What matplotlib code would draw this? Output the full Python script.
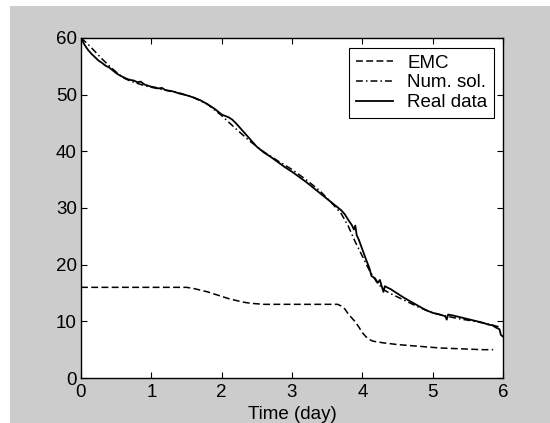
import matplotlib
matplotlib.use("Agg")
import matplotlib.pyplot as plt
from matplotlib.patches import Rectangle

plt.rcParams['font.family'] = ['Liberation Sans', 'DejaVu Sans']

# EMC curve
emc_t = [0.0, 1.5, 1.6, 1.7, 1.8, 1.9, 2.0, 2.1, 2.2, 2.3, 2.4, 2.5, 2.6, 3.65,
         3.7, 3.75, 3.8, 3.85, 3.9, 3.95, 4.0, 4.05, 4.1, 4.15, 4.3, 4.5, 4.7,
         4.9, 5.1, 5.3, 5.5, 5.7, 5.86]
emc_v = [16.0, 16.0, 15.8, 15.5, 15.2, 14.8, 14.4, 14.0, 13.7, 13.4, 13.2, 13.1, 13.0, 13.0,
         12.7, 12.2, 11.3, 10.6, 9.9, 9.0, 8.0, 7.3, 6.8, 6.5, 6.2, 5.9, 5.7,
         5.5, 5.3, 5.2, 5.1, 5.0, 5.0]

# numerical solution
num_t = [0.0, 0.1, 0.2, 0.3, 0.4, 0.5, 0.6, 0.7, 0.8, 0.9, 1.0, 1.2, 1.4, 1.6, 1.8,
         2.0, 2.2, 2.4, 2.6, 2.8, 3.0, 3.2, 3.4, 3.6, 3.7, 3.8, 3.9, 4.0, 4.1,
         4.2, 4.3, 4.4, 4.6, 4.8, 5.0, 5.2, 5.4, 5.6, 5.8, 5.95]
num_v = [60.0, 58.9, 57.6, 56.3, 55.1, 54.0, 53.0, 52.4, 52.0, 51.6, 51.3, 50.8, 50.3, 49.5, 48.3,
         46.3, 44.0, 41.8, 39.9, 38.3, 36.8, 35.0, 33.0, 30.4, 29.0, 26.8, 24.0, 21.5, 19.0,
         17.0, 15.6, 14.9, 13.7, 12.5, 11.5, 10.9, 10.4, 10.0, 9.5, 9.0]

# measured data
real_t = [0.00, 0.05, 0.10, 0.15, 0.20, 0.25, 0.30, 0.35, 0.40, 0.45, 0.50, 0.55, 0.60,
          0.65, 0.70, 0.75, 0.80, 0.85, 0.90, 0.95, 1.00, 1.05, 1.10, 1.15, 1.20, 1.30,
          1.40, 1.50, 1.60, 1.70, 1.80, 1.90, 2.00, 2.10, 2.15, 2.20, 2.30, 2.40, 2.50,
          2.60, 2.70, 2.80, 2.90, 3.00, 3.10, 3.20, 3.30, 3.40, 3.50, 3.60, 3.70, 3.75,
          3.80, 3.85, 3.88, 3.90, 3.92, 3.95, 4.00, 4.05, 4.10, 4.13, 4.18, 4.22, 4.25,
          4.28, 4.30, 4.32, 4.35, 4.40, 4.50, 4.60, 4.70, 4.80, 4.90, 5.00, 5.10, 5.18,
          5.20, 5.22, 5.30, 5.40, 5.50, 5.60, 5.70, 5.80, 5.85, 5.90, 5.95, 5.97, 6.00]
real_v = [60.0, 58.8, 57.9, 57.2, 56.6, 56.0, 55.6, 55.1, 54.8, 54.3, 53.8, 53.4, 53.1,
          52.8, 52.6, 52.5, 52.2, 52.3, 51.8, 51.6, 51.4, 51.3, 51.1, 51.2, 50.8, 50.6,
          50.2, 49.9, 49.5, 49.0, 48.3, 47.5, 46.5, 46.0, 45.6, 45.0, 43.6, 42.2, 40.8,
          39.8, 39.0, 38.1, 37.2, 36.4, 35.5, 34.6, 33.6, 32.6, 31.6, 30.6, 29.6, 28.9,
          27.9, 27.0, 26.2, 26.9, 25.2, 24.4, 22.7, 21.0, 19.4, 18.0, 17.6, 16.8, 17.3,
          16.0, 15.2, 16.2, 16.0, 15.7, 14.9, 14.1, 13.4, 12.7, 12.0, 11.5, 11.2, 10.9,
          10.3, 11.2, 11.0, 10.7, 10.4, 10.1, 9.8, 9.4, 9.3, 8.9, 8.6, 7.6, 7.3]

x_ticks = [0, 1, 2, 3, 4, 5, 6]
y_ticks = [0, 10, 20, 30, 40, 50, 60]

W, H = 550, 423
fs = 13.5
fig = plt.figure(figsize=(5.5, 4.23), dpi=100, facecolor='white')
fig.add_artist(Rectangle((10 / W, 0), 540 / W, 417 / H, transform=fig.transFigure,
                         facecolor='#cccccc', edgecolor='none', zorder=-10))

ax = fig.add_axes([81 / W, 45 / H, 422 / W, 340 / H])
ax.plot(emc_t, emc_v, color='black', lw=1.1, dashes=(4.5, 2.2), label='EMC')
ax.plot(num_t, num_v, color='black', lw=1.1, dashes=(4.5, 2, 1, 2), label='Num. sol.')
ax.plot(real_t, real_v, color='black', lw=1.3, label='Real data')

ax.set_xlim(0, 6)
ax.set_ylim(0, 60)
ax.set_xticks(x_ticks)
ax.set_yticks(y_ticks)
ax.tick_params(direction='in', length=4, width=0.8, top=True, right=True,
               labelsize=fs, colors='black')
ax.tick_params(axis='x', pad=4)
ax.tick_params(axis='y', pad=3)
for s in ax.spines.values():
    s.set_linewidth(1.0)
ax.set_xlabel('Time (day)', fontsize=fs)
ax.xaxis.set_label_coords(0.5, -0.082)

leg = ax.legend(loc='upper right', bbox_to_anchor=(0.979, 0.971), borderaxespad=0,
                fontsize=fs, fancybox=False, edgecolor='black', framealpha=1,
                handlelength=2.0, handletextpad=0.75, labelspacing=0.15, borderpad=0.35)
leg.get_frame().set_linewidth(0.8)

fig.savefig('out.png', dpi=100)
